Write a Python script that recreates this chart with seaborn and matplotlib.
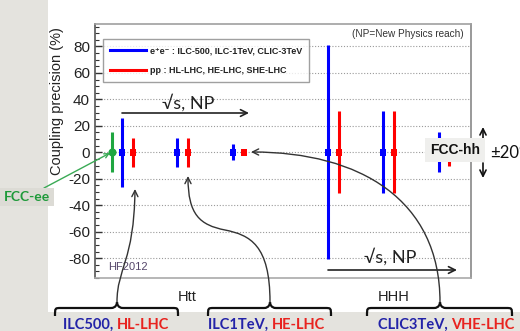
import matplotlib
matplotlib.use("Agg")
import matplotlib.pyplot as plt
from matplotlib.patches import Rectangle, FancyArrowPatch, PathPatch
from matplotlib.path import Path
from matplotlib.lines import Line2D
from matplotlib.transforms import Affine2D
import numpy as np
import pandas as pd
import seaborn as sns

plt.rcParams["axes.unicode_minus"] = False

# ---- data -------------------------------------------------------------
channel = ["Htt"] * 7 + ["HHH"] * 6
machine = ["FCC-ee", "ILC-500", "HL-LHC", "ILC-1TeV", "HE-LHC", "CLIC-3TeV", "VHE-LHC",
           "ILC-500", "HL-LHC", "ILC-1TeV", "HE-LHC", "CLIC-3TeV", "VHE-LHC"]
collider = ["fcc", "ee", "pp", "ee", "pp", "ee", "pp",
            "ee", "pp", "ee", "pp", "ee", "pp"]
precision = [15, 26, 11, 11, 11, 6, 2, 81, 31, 31, 31, 15, 10]   # +/- %
slot = [17, 27, 38, 82, 93, 138, 149, 233, 244, 288, 299, 344, 354]

yticks = [-80, -60, -40, -20, 0, 20, 40, 60, 80]
legend_labels = ["e\u207ae\u207b : ILC-500, ILC-1TeV, CLIC-3TeV",
                 "pp : HL-LHC, HE-LHC, SHE-LHC"]
brace_groups = [("ILC500, ", "HL-LHC"), ("ILC1TeV, ", "HE-LHC"), ("CLIC3TeV, ", "VHE-LHC")]

BLUE, RED, GREEN = "#0000ff", "#ff0000", "#1fa640"
palette = {"ee": BLUE, "pp": RED, "fcc": GREEN}

df = pd.DataFrame({"channel": channel, "machine": machine, "collider": collider,
                   "precision": precision, "slot": slot})
df["center"] = 0.0

# ---- figure / slide background ---------------------------------------
W, H = 520, 331
fig = plt.figure(figsize=(W / 100, H / 100), dpi=100, facecolor="#e4e3de")
px = Affine2D().scale(1 / W, -1 / H).translate(0, 1) + fig.transFigure

fig.add_artist(Rectangle((48, 0), W - 48, 312, transform=px, facecolor="white",
                         edgecolor="none", zorder=-2))

ax = fig.add_axes([95 / W, (H - 278) / H, 376 / W, 254 / H])
ax.set_facecolor("white")
ax.set_xlim(0, 376)
ax.set_ylim(-95, 97)

# grid
for yv in yticks:
    ax.axhline(yv, color="#9a9a9a", lw=0.8, ls=(0, (1, 1.6)), zorder=1)

# error bars
ax.vlines(df["slot"], df["center"] - df["precision"], df["center"] + df["precision"],
          colors=[palette[c] for c in df["collider"]], lw=2.2, zorder=3)

# central markers
sns.scatterplot(data=df[df.collider != "fcc"], x="slot", y="center", hue="collider",
                palette=palette, marker="s", s=22, linewidth=0, legend=False,
                ax=ax, zorder=4)
sns.scatterplot(data=df[df.collider == "fcc"], x="slot", y="center", color=GREEN,
                marker="o", s=34, linewidth=0, legend=False, ax=ax, zorder=4)

# axes styling
ax.set_xticks([])
ax.set_yticks(yticks)
ax.set_yticks(np.arange(-95, 96, 5), minor=True)
ax.tick_params(axis="y", which="major", direction="in", length=5, width=1,
               color="#333333", labelsize=11, labelcolor="#222222", pad=3.6)
ax.tick_params(axis="y", which="minor", direction="in", length=3, width=0.8,
               color="#333333")
for lab in ax.get_yticklabels():
    lab.set_fontfamily("Liberation Sans")
ax.set_xlabel("")
ax.set_ylabel("")
ax.spines["left"].set_color("#555555")
ax.spines["bottom"].set_color("#aaaaaa")
ax.spines["top"].set_color("#a0a0a0")
ax.spines["right"].set_color("#888888")
for s in ax.spines.values():
    s.set_linewidth(1.2)

# legend
handles = [Line2D([], [], color=BLUE, lw=2.2), Line2D([], [], color=RED, lw=2.2)]
leg = ax.legend(handles, legend_labels, loc="upper left",
                bbox_to_anchor=((103 - 95) / 376, (278 - 39) / 254),
                borderaxespad=0, frameon=True, fancybox=False, handlelength=4.0,
                handletextpad=0.4, labelspacing=1.2, borderpad=0.8,
                prop={"family": ["Liberation Sans", "DejaVu Sans"], "weight": "bold",
                      "size": 6.5})
leg.get_frame().set_edgecolor("#888888")
leg.get_frame().set_linewidth(1.0)
for t in leg.get_texts():
    t.set_color("#222222")

# ---- text and annotations ---------------------------------------------
slide_font = ["Lato", "DejaVu Sans"]

fig.text(57, 101, "Coupling precision (%)", transform=px, rotation=90, ha="center",
         va="center", fontsize=10.5, family="Liberation Sans", color="#222222")
fig.text(464, 34, "(NP=New Physics reach)", transform=px, ha="right", va="center",
         fontsize=7.2, family="Liberation Sans", color="#333333")
fig.text(108, 267, "HF2012", transform=px, ha="left", va="center", fontsize=8,
         family="Liberation Sans", color="#55466a")

def arrow(p0, p1, style="->", color="#222222", lw=1.2, ms=12, z=6):
    a = FancyArrowPatch(p0, p1, transform=px, arrowstyle=style, color=color, lw=lw,
                        mutation_scale=ms, zorder=z, shrinkA=0, shrinkB=0)
    fig.add_artist(a)

def curve(verts, color="#333333", lw=1.0, z=6):
    codes = [Path.MOVETO] + [Path.CURVE4] * (len(verts) - 1)
    a = FancyArrowPatch(path=Path(verts, codes), transform=px, arrowstyle="->",
                        color=color, lw=lw, mutation_scale=11, zorder=z)
    fig.add_artist(a)

# energy / NP arrows
arrow((122, 113), (249, 113))
fig.text(188, 103, "\u221as, NP", transform=px, ha="center", va="center",
         fontsize=13, family=slide_font, color="#222222")
arrow((328, 270), (457, 270))
fig.text(390, 257, "\u221as, NP", transform=px, ha="center", va="center",
         fontsize=13, family=slide_font, color="#222222")

# channel labels
fig.text(187, 297, "Htt", transform=px, ha="center", va="center", fontsize=10.5,
         family="Liberation Sans", color="#222222")
fig.text(394, 297, "HHH", transform=px, ha="center", va="center", fontsize=10.5,
         family="Liberation Sans", color="#222222")

# braces
def brace(xl, xr, xc, yb=308, ye=316, yp=302):
    verts = [(xl, ye), (xl, yb), (xl, yb), (xl + 6, yb),
             (xc - 6, yb), (xc - 1, yb), (xc, yp + 2), (xc, yp),
             (xc, yp + 2), (xc + 1, yb), (xc + 6, yb),
             (xr - 6, yb), (xr, yb), (xr, yb), (xr, ye)]
    codes = [Path.MOVETO, Path.CURVE4, Path.CURVE4, Path.CURVE4,
             Path.LINETO, Path.CURVE4, Path.CURVE4, Path.CURVE4,
             Path.CURVE4, Path.CURVE4, Path.CURVE4,
             Path.LINETO, Path.CURVE4, Path.CURVE4, Path.CURVE4]
    fig.add_artist(PathPatch(Path(verts, codes), transform=px, facecolor="none",
                             edgecolor="#111111", lw=1.6, zorder=6))

brace(55, 178, 117)
brace(208, 331, 270)
brace(367, 512, 440)

split_x = [117, 272, 451]
for (blue_part, red_part), sx in zip(brace_groups, split_x):
    fig.text(sx, 325, blue_part, transform=px, ha="right", va="center", fontsize=10.5,
             family=slide_font, weight="bold", color="#2323a8")
    fig.text(sx, 325, red_part, transform=px, ha="left", va="center", fontsize=10.5,
             family=slide_font, weight="bold", color="#e8231f")

# curved pointers from the braces
curve([(117, 302), (117, 268), (134, 262), (135, 189)])
curve([(270, 302), (270, 245), (250, 235), (225, 230),
       (200, 225), (188, 215), (188, 176)])
curve([(440, 302), (440, 200), (360, 152), (251, 152)])

# FCC-ee tag
fig.text(27, 197, "FCC-ee", transform=px, ha="center", va="center", fontsize=10,
         family=slide_font, weight="bold", color="#1f9a3a",
         bbox=dict(boxstyle="square,pad=0.25", facecolor="#dcdbd5", edgecolor="none"),
         zorder=7)
arrow((44, 188), (110, 153), color="#3aaa55", lw=1.0, ms=8)

# FCC-hh tag with +/-20% range
arrow((483, 138), (483, 127), color="#111111", lw=1.2, ms=11)
arrow((483, 163), (483, 178), color="#111111", lw=1.2, ms=11)
fig.text(455, 150, "FCC-hh", transform=px, ha="center", va="center", fontsize=10,
         family="Liberation Sans", weight="bold", color="#111111",
         bbox=dict(boxstyle="square,pad=0.35", facecolor="#efefed", edgecolor="none"),
         zorder=8)
fig.text(490, 153, "\u00b120%", transform=px, ha="left", va="center", fontsize=12,
         family=slide_font, color="#111111")

fig.savefig("out.png", dpi=100, facecolor=fig.get_facecolor())
